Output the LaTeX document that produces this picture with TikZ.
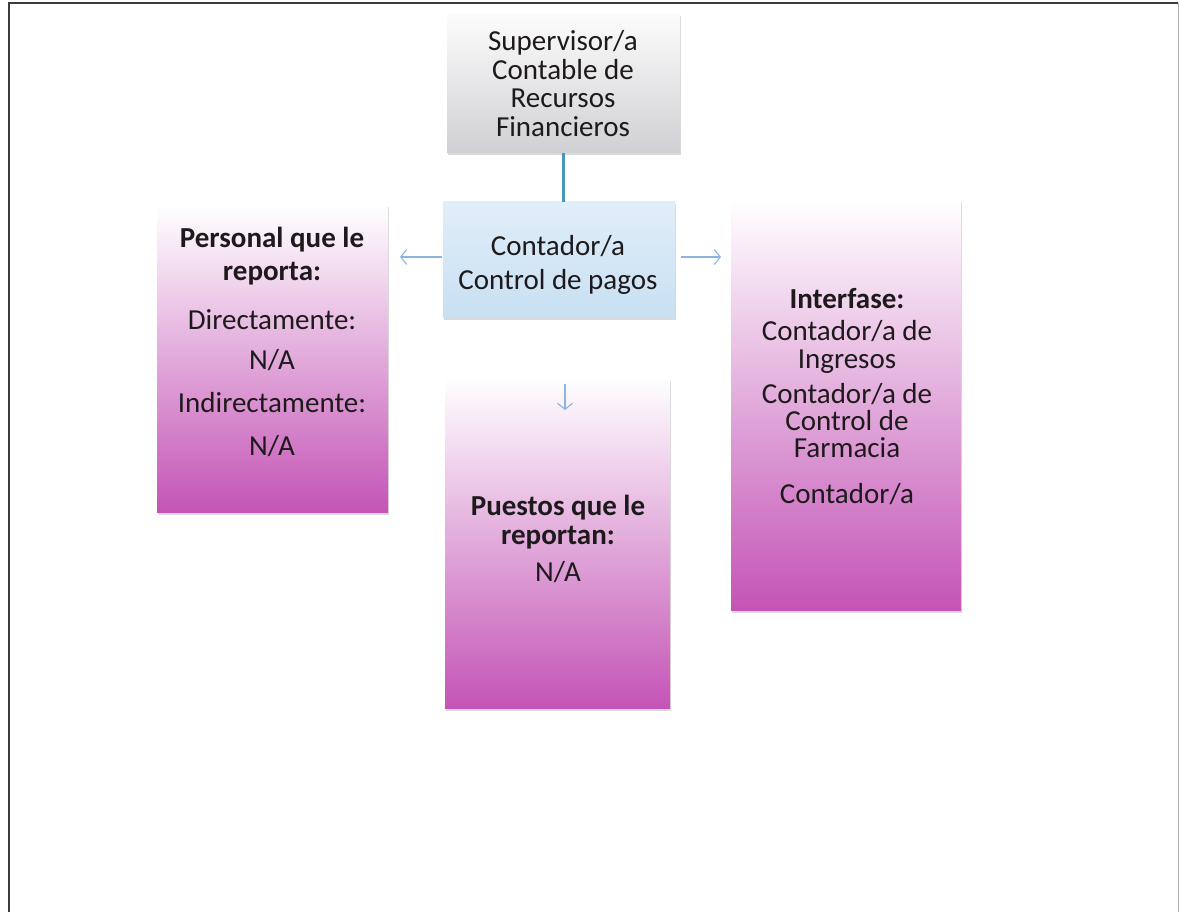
\documentclass[tikz,border=0pt]{standalone}
\usepackage{fontspec}
\setmainfont{Carlito}
\usetikzlibrary{arrows.meta,shadows}
\definecolor{txtc}{RGB}{30,26,28}
\definecolor{lineteal}{RGB}{72,150,186}
\definecolor{arrblue}{RGB}{140,180,225}
\definecolor{pinkmid}{RGB}{238,196,234}
\definecolor{pinkbot}{RGB}{196,84,182}
\definecolor{graytop}{RGB}{252,252,252}
\definecolor{graybot}{RGB}{208,208,212}
\definecolor{bluetop}{RGB}{224,238,249}
\definecolor{bluebot}{RGB}{200,224,243}
\definecolor{framec}{RGB}{60,60,60}
\tikzset{
  boxbase/.style={rectangle, inner sep=0pt, draw=none,
    general shadow={fill=black!15, shadow xshift=1pt, shadow yshift=-2.5pt}},
  pinkbox/.style={boxbase, top color=white, middle color=pinkmid, bottom color=pinkbot},
  graybox/.style={boxbase, top color=graytop, bottom color=graybot},
  bluebox/.style={boxbase, top color=bluetop, bottom color=bluebot},
  txt/.style={font=\fontsize{29}{31}\selectfont, text=txtc, inner sep=0pt, anchor=base},
  btxt/.style={txt, font=\fontsize{29}{31}\selectfont\bfseries},
  arr/.style={draw=arrblue, line width=1.1pt, -{Straight Barb[length=6pt,width=15pt]}},
  link/.style={draw=lineteal, line width=3.5pt}
}
\begin{document}
\begin{tikzpicture}[x=1pt,y=-1pt]
\useasboundingbox (0,0) rectangle (1180,912);
\fill[white] (0,0) rectangle (1180,912);
% frame
\draw[framec, line width=2.5pt] (9,912) -- (9,3) -- (1178,3);
\draw[black!30, line width=1pt] (1178,3) -- (1178,912);

% boxes
\node[graybox, minimum width=233pt, minimum height=139pt] (sup) at (563.5,83.5) {};
\node[bluebox, minimum width=232pt, minimum height=115pt] (cont) at (559,259.5) {};
\node[pinkbox, minimum width=231pt, minimum height=307pt] (pers) at (272.5,358.5) {};
\node[pinkbox, minimum width=225pt, minimum height=330pt] (pues) at (557.5,543) {};
\node[pinkbox, minimum width=230pt, minimum height=410pt] (inter) at (846,405) {};

% connectors
\draw[link] (sup.south) -- (sup.south |- cont.north);
\coordinate (la0) at (442,257);
\coordinate (la1) at (400,257);
\coordinate (ra0) at (681,257);
\coordinate (ra1) at (721,257);
\coordinate (da0) at (565,384);
\coordinate (da1) at (565,410);
\draw[arr] (la0) -- (la1);
\draw[arr] (ra0) -- (ra1);
\draw[arr] (da0) -- (da1);

% top box text
\node[txt] (s1) at (563,51) {Supervisor/a};
\node[txt] (s2) at (563,80) {Contable de};
\node[txt] (s3) at (563,108) {Recursos};
\node[txt] (s4) at (563,137) {Financieros};

% blue box text
\node[txt] (c1) at (558,255) {Contador/a};
\node[txt] (c2) at (558,289) {Control de pagos};

% left box text
\node[btxt] (p1) at (272,247) {Personal que le};
\node[btxt] (p2) at (272,280) {reporta:};
\node[txt] (p3) at (272,329) {Directamente:};
\node[txt] (p4) at (272,369) {N/A};
\node[txt] (p5) at (272,412) {Indirectamente:};
\node[txt] (p6) at (272,455) {N/A};

% middle box text
\node[btxt] (m1) at (558,515) {Puestos que le};
\node[btxt] (m2) at (558,544) {reportan:};
\node[txt] (m3) at (558,581) {N/A};

% right box text
\node[btxt] (i1) at (847,308) {Interfase:};
\node[txt] (i2) at (847,340) {Contador/a de};
\node[txt] (i3) at (847,368) {Ingresos};
\node[txt] (i4) at (847,403) {Contador/a de};
\node[txt] (i5) at (847,430) {Control de};
\node[txt] (i6) at (847,457) {Farmacia};
\node[txt] (i7) at (847,503) {Contador/a};
\end{tikzpicture}
\end{document}
